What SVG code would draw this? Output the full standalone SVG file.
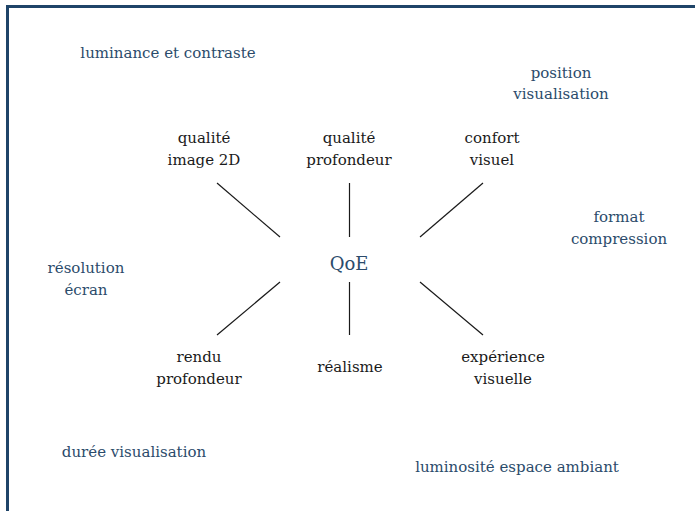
<svg xmlns="http://www.w3.org/2000/svg" width="695" height="511" viewBox="0 0 695 511">
<style>
text{font-family:"DejaVu Serif","Liberation Serif",serif;font-size:15px;text-anchor:middle}
.k{fill:#1a1a1a}
.b{fill:#2b4b6b}
.q{fill:#2b4b6b;font-size:18px}
.c line{stroke:#1a1a1a;stroke-width:1.2}
</style>
<rect width="695" height="511" fill="#fff"/>
<path d="M7.5 511V6.5H695" fill="none" stroke="#1f4468" stroke-width="3"/>
<g id="qoe"><text class="q" x="349" y="270">QoE</text></g>
<g id="qualite-image"><text class="k" x="204" y="143">qualité</text><text class="k" x="204" y="165">image 2D</text></g>
<g id="qualite-profondeur"><text class="k" x="349" y="143">qualité</text><text class="k" x="349" y="165">profondeur</text></g>
<g id="confort-visuel"><text class="k" x="492" y="143">confort</text><text class="k" x="492" y="165">visuel</text></g>
<g id="rendu-profondeur"><text class="k" x="199" y="362">rendu</text><text class="k" x="199" y="384">profondeur</text></g>
<g id="realisme"><text class="k" x="350" y="372">réalisme</text></g>
<g id="experience-visuelle"><text class="k" x="503" y="362">expérience</text><text class="k" x="503" y="384">visuelle</text></g>
<g id="luminance"><text class="b" x="168" y="58">luminance et contraste</text></g>
<g id="position"><text class="b" x="561" y="78">position</text><text class="b" x="561" y="99">visualisation</text></g>
<g id="format"><text class="b" x="619" y="222">format</text><text class="b" x="619" y="244">compression</text></g>
<g id="resolution"><text class="b" x="86" y="273">résolution</text><text class="b" x="86" y="295">écran</text></g>
<g id="duree"><text class="b" x="134" y="457">durée visualisation</text></g>
<g id="luminosite"><text class="b" x="517" y="472">luminosité espace ambiant</text></g>
<g class="c" id="connectors">
<line x1="217" y1="183" x2="280" y2="237"/>
<line x1="349.5" y1="183" x2="349.5" y2="237"/>
<line x1="483" y1="183" x2="420" y2="237"/>
<line x1="280" y1="282" x2="217" y2="335"/>
<line x1="349.5" y1="282" x2="349.5" y2="335"/>
<line x1="420" y1="282" x2="483" y2="335"/>
</g>
</svg>
